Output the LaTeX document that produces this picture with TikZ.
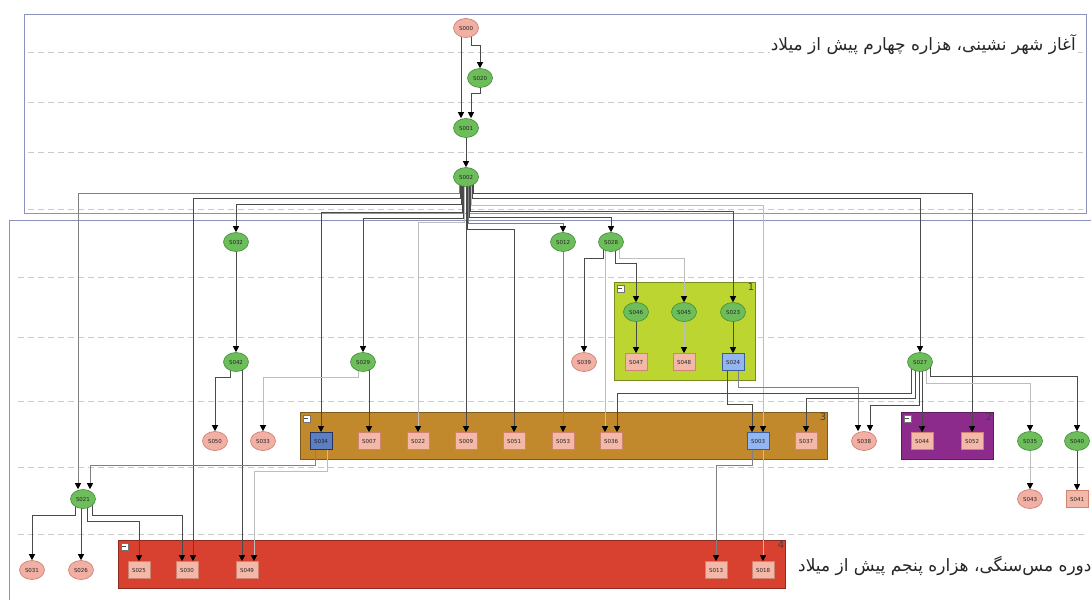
\documentclass[tikz,border=0pt]{standalone}
\usepackage{fontspec}
\setmainfont{DejaVu Sans}
\newfontfamily\arabicfont[Script=Arabic]{DejaVu Sans}
\TeXXeTstate=1
\usepackage{tikz}
\usetikzlibrary{shapes.geometric,arrows.meta,positioning,fit}
\definecolor{cLane}{HTML}{8A93BC}
\definecolor{cSep}{HTML}{CACACA}
\definecolor{cGrn}{HTML}{6DBE5B}
\definecolor{cGrnD}{HTML}{3F8A3A}
\definecolor{cPnk}{HTML}{F2AFA4}
\definecolor{cPnkD}{HTML}{C77A6E}
\definecolor{cRct}{HTML}{F4B8A8}
\definecolor{cRctD}{HTML}{CF8470}
\definecolor{cBlu}{HTML}{93B6F2}
\definecolor{cBluD}{HTML}{3A5E9A}
\definecolor{cBlk}{HTML}{5B7EC4}
\definecolor{cBlkD}{HTML}{25335E}
\definecolor{cGOne}{HTML}{BCD530}
\definecolor{cGTwo}{HTML}{8C2B8C}
\definecolor{cGThree}{HTML}{C1892B}
\definecolor{cGFour}{HTML}{D8412F}
\definecolor{cEdge}{HTML}{4A4A4A}
\definecolor{cEdgeM}{HTML}{808080}
\definecolor{cEdgeL}{HTML}{BDBDBD}
\pgfdeclarelayer{lanes}
\pgfdeclarelayer{links}
\pgfsetlayers{lanes,links,main}
\tikzset{
  unit/.style  = {inner sep=0pt, font=\fontsize{5.5}{6.5}\selectfont, text=black!85, line width=0.6pt},
  grn/.style   = {unit, ellipse, draw=cGrnD, fill=cGrn, minimum width=25pt, minimum height=19pt},
  pnk/.style   = {unit, ellipse, draw=cPnkD, fill=cPnk, minimum width=25pt, minimum height=19pt},
  rct/.style   = {unit, rectangle, draw=cRctD, fill=cRct, minimum width=22pt, minimum height=17pt},
  blu/.style   = {unit, rectangle, draw=cBluD, fill=cBlu, minimum width=22pt, minimum height=17pt},
  blk/.style   = {unit, rectangle, draw=cBlkD, fill=cBlk, minimum width=22pt, minimum height=17pt, line width=1pt},
  grp/.style   = {rectangle, draw=#1!65!black, fill=#1, line width=0.8pt, inner sep=0pt},
  lane/.style  = {rectangle, draw=cLane, line width=0.8pt, inner sep=0pt},
  sep/.style   = {draw=cSep, line width=0.6pt, dash pattern=on 6pt off 4pt},
  gnum/.style  = {font=\fontsize{10}{10}\selectfont, text=black!75, inner sep=1pt},
  mbox/.style  = {rectangle, draw=black!55, fill=white, minimum size=7pt, inner sep=0pt,
                  path picture={\draw[black!70, line width=0.8pt]
                    ([xshift=1.5pt]path picture bounding box.west) -- ([xshift=-1.5pt]path picture bounding box.east);}},
  ttl/.style   = {font=\arabicfont\fontsize{17}{19}\selectfont, text=black!85, inner sep=1pt},
  fl/.style    = {-{Triangle[length=6pt, width=6pt, color=black]}, draw=cEdge, line width=0.8pt},
  flm/.style   = {-{Triangle[length=6pt, width=6pt, color=black]}, draw=cEdgeM, line width=0.8pt},
  fll/.style   = {-{Triangle[length=6pt, width=6pt, color=black]}, draw=cEdgeL, line width=0.8pt},
}

\begin{document}
\begin{tikzpicture}[x=1pt, y=-1pt]
  \useasboundingbox (0,0) rectangle (1091,599);

  % units, top phase
  \node[pnk] (S000) at (466,28) {S000};
  \node[grn] (S020) at (480,78) {S020};
  \node[grn] (S001) at (466,128) {S001};
  \node[grn] (S002) at (466,177) {S002};

  % units, lower phase
  \node[grn] (S032) at (236,242) {S032};
  \node[grn] (S012) at (563,242) {S012};
  \node[grn] (S028) at (611,242) {S028};
  \node[grn] (S046) at (636,312) {S046};
  \node[grn] (S045) at (684,312) {S045};
  \node[grn] (S023) at (733,312) {S023};
  \node[grn] (S042) at (236,362) {S042};
  \node[grn] (S029) at (363,362) {S029};
  \node[pnk] (S039) at (584,362) {S039};
  \node[rct] (S047) at (636,362) {S047};
  \node[rct] (S048) at (684,362) {S048};
  \node[blu] (S024) at (733,362) {S024};
  \node[grn] (S027) at (920,362) {S027};

  \node[pnk] (S050) at (215,441) {S050};
  \node[pnk] (S033) at (263,441) {S033};
  \node[blk] (S034) at (321,441) {S034};
  \node[rct] (S007) at (369,441) {S007};
  \node[rct] (S022) at (418,441) {S022};
  \node[rct] (S009) at (466,441) {S009};
  \node[rct] (S051) at (514,441) {S051};
  \node[rct] (S053) at (563,441) {S053};
  \node[rct] (S036) at (611,441) {S036};
  \node[blu] (S003) at (758,441) {S003};
  \node[rct] (S037) at (806,441) {S037};
  \node[pnk] (S038) at (864,441) {S038};
  \node[rct] (S044) at (922,441) {S044};
  \node[rct] (S052) at (972,441) {S052};
  \node[grn] (S035) at (1030,441) {S035};
  \node[grn] (S040) at (1077,441) {S040};

  \node[grn] (S021) at (83,499) {S021};
  \node[pnk] (S043) at (1030,499) {S043};
  \node[rct] (S041) at (1077,499) {S041};

  \node[pnk] (S031) at (32,570) {S031};
  \node[pnk] (S026) at (81,570) {S026};
  \node[rct] (S025) at (139,570) {S025};
  \node[rct] (S030) at (187,570) {S030};
  \node[rct] (S049) at (247,570) {S049};
  \node[rct] (S013) at (716,570) {S013};
  \node[rct] (S018) at (763,570) {S018};

  % phase titles
  \node[ttl, anchor=east, fill=white] (T1) at (1077,45) {\beginR آغاز شهر نشینی، هزاره چهارم پیش از میلاد\endR};
  \node[ttl, anchor=west] (T2) at (797,566) {\beginR دوره مس‌سنگی، هزاره پنجم پیش از میلاد\endR};

  % lanes, separators, groups
  \begin{pgfonlayer}{lanes}
    \fill[white] (0,0) rectangle (1091,599);
    \foreach \y in {52,102,152,209} \draw[sep] (28,\y) -- (1083,\y);
    \foreach \y in {277,337,401,467,534} \draw[sep] (18,\y) -- (1085,\y);
    \node[lane, fit={(24,14) (1086,213)}] (L1) {};
    \node[lane, fit={(9,220) (1100,610)}] (L2) {};
    \node[grp=cGOne, fit={(614,282) (755,380)}] (G1) {};
    \node[grp=cGThree, fit={(300,412) (827,459)}] (G3) {};
    \node[grp=cGTwo, fit={(901,412) (993,459)}] (G2) {};
    \node[grp=cGFour, fit={(118,540) (785,588)}] (G4) {};
  \end{pgfonlayer}
  \node[gnum, anchor=north east] at (G1.north east) {1};
  \node[gnum, anchor=north east] at (G3.north east) {3};
  \node[gnum, anchor=north east] at (G2.north east) {2};
  \node[gnum, anchor=north east] at (G4.north east) {4};
  \node[mbox, anchor=north west] at ([shift={(3,3)}]G1.north west) {};
  \node[mbox, anchor=north west] at ([shift={(3,3)}]G3.north west) {};
  \node[mbox, anchor=north west] at ([shift={(3,3)}]G2.north west) {};
  \node[mbox, anchor=north west] at ([shift={(3,3)}]G4.north west) {};

  \begin{pgfonlayer}{links}
    \draw[fl] ([xshift=-5pt]S000.center) -- ([xshift=-5pt]S001.north);
    \draw[fl] ([xshift=5pt]S000.center) -- ++(0,17) -| (S020.north);
    \draw[fl] (S020.center) -- ++(0,15) -| ([xshift=5pt]S001.north);
    \draw[fl] (S001) -- (S002);

    \draw[flm] ([xshift=-7pt]S002.center) -- ++(0,16) -| ([xshift=-5pt]S021.north);
    \draw[fl] ([xshift=-6pt]S002.center) -- ++(0,21) -| ([xshift=6pt]S030.north);
    \draw[fl] ([xshift=-5pt]S002.center) -- ++(0,27) -| (S032.north);
    \draw[fl] ([xshift=-4pt]S002.center) -- ++(0,35) -| (S034.north);
    \draw[fl] ([xshift=-3pt]S002.center) -- ++(0,41) -| (S029.north);
    \draw[fll] ([xshift=-2pt]S002.center) -- ++(0,45) -| (S022.north);
    \draw[fl] (S002.center) -- (S009.north);
    \draw[fl] ([xshift=1pt]S002.center) -- ++(0,52) -| (S051.north);
    \draw[flm] ([xshift=2pt]S002.center) -- ++(0,46) -| (S012.north);
    \draw[fl] ([xshift=3pt]S002.center) -- ++(0,40) -| (S028.north);
    \draw[fl] ([xshift=4pt]S002.center) -- ++(0,34) -| (S023.north);
    \draw[fll] ([xshift=5pt]S002.center) -- ++(0,28) -| ([xshift=5pt]S003.north);
    \draw[fl] ([xshift=6pt]S002.center) -- ++(0,21) -| (S027.north);
    \draw[fl] ([xshift=7pt]S002.center) -- ++(0,16) -| (S052.north);

    \draw[fl] (S032) -- (S042);
    \draw[fl] ([xshift=-6pt]S042.center) -- ++(0,15) -| (S050.north);
    \draw[fl] ([xshift=6pt]S042.center) -- ([xshift=-5pt]S049.north);
    \draw[fl] ([xshift=6pt]S029.center) -- (S007.north);
    \draw[fll] ([xshift=-5pt]S029.center) -- ++(0,15) -| (S033.north);
    \draw[flm] (S012) -- (S053);
    \draw[fl] ([xshift=-8pt]S028.center) -- ++(0,16) -| (S039.north);
    \draw[fll] ([xshift=-6pt]S028.center) -- ([xshift=-6pt]S036.north);
    \draw[fl] ([xshift=4pt]S028.center) -- ++(0,21) -| (S046.north);
    \draw[fll] ([xshift=8pt]S028.center) -- ++(0,16) -| (S045.north);
    \draw[fl] (S046) -- (S047);
    \draw[fll] (S045) -- (S048);
    \draw[fl] (S023) -- (S024);
    \draw[fl] ([xshift=-6pt]S024.center) -- ++(0,42) -| ([xshift=-6pt]S003.north);
    \draw[flm] ([xshift=5pt]S024.center) -- ++(0,25) -| ([xshift=-6pt]S038.north);

    \draw[fl] ([xshift=-9pt]S027.center) -- ++(0,31) -| ([xshift=6pt]S036.north);
    \draw[fl] ([xshift=-5pt]S027.center) -- ++(0,36) -| (S037.north);
    \draw[fl] ([xshift=-1pt]S027.center) -- ++(0,43) -| ([xshift=6pt]S038.north);
    \draw[fl] ([xshift=2pt]S027.center) -- (S044.north);
    \draw[fll] ([xshift=6pt]S027.center) -- ++(0,21) -| (S035.north);
    \draw[fl] ([xshift=10pt]S027.center) -- ++(0,14) -| (S040.north);
    \draw[fll] (S035) -- (S043);
    \draw[fl] (S040) -- (S041);

    \draw[flm] ([xshift=-6pt]S003.center) -- ++(0,24) -| (S013.north);
    \draw[fll] ([xshift=5pt]S003.center) -- (S018.north);
    \draw[flm] ([xshift=-6pt]S034.center) -- ++(0,24) -| ([xshift=7pt]S021.north);
    \draw[fll] ([xshift=6pt]S034.center) -- ++(0,30) -| ([xshift=7pt]S049.north);

    \draw[fl] ([xshift=-8pt]S021.center) -- ++(0,16) -| (S031.north);
    \draw[fl] ([xshift=-2pt]S021.center) -- (S026.north);
    \draw[fl] ([xshift=4pt]S021.center) -- ++(0,22) -| (S025.north);
    \draw[fl] ([xshift=9pt]S021.center) -- ++(0,16) -| ([xshift=-5pt]S030.north);
  \end{pgfonlayer}
\end{tikzpicture}
\end{document}
